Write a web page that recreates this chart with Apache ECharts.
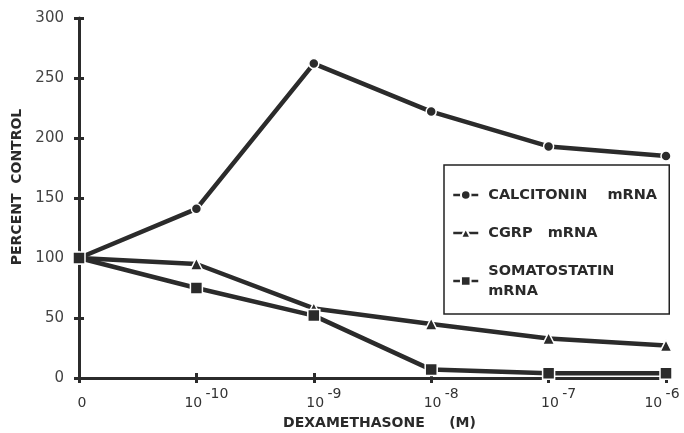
<!DOCTYPE html>
<html>
<head>
<meta charset="utf-8">
<script src="https://cdn.jsdelivr.net/npm/echarts@6/dist/echarts.min.js"></script>
<style>
html,body{margin:0;padding:0;background:#fff;}
#chart{width:684px;height:433px;}
</style>
</head>
<body>
<div id="chart"></div>
<script>
// Data
var xCategories = ['0', '1e-10', '1e-9', '1e-8', '1e-7', '1e-6'];
var calcitonin = [100, 141, 262, 222, 193, 185];
var cgrp = [100, 95, 58, 45, 33, 27];
var somatostatin = [100, 75, 52, 7, 4, 4];
var seriesNames = ['CALCITONIN    mRNA', 'CGRP   mRNA', 'SOMATOSTATIN\nmRNA'];
var yTicks = {min: 0, max: 300, interval: 50};
var xTitle = 'DEXAMETHASONE     (M)';
var yTitle = 'PERCENT  CONTROL';

var ink = '#2b2b2b';
var font = 'DejaVu Sans';

function xLabel(v) {
  if (v === '0') return '{b|0}';
  var exp = v.split('e')[1];
  return '{b|10} {s|' + exp + '}';
}

var lastIdx = xCategories.length - 1;
var xData = xCategories.map(function (c, i) {
  if (i === 0) return {value: c, textStyle: {padding: [0, 0, 0, 6]}};
  if (i === lastIdx) return {value: c, textStyle: {padding: [0, 8, 0, 0]}};
  return c;
});

var chart = echarts.init(document.getElementById('chart'), null, {renderer: 'canvas'});

function mkSeries(name, data, symbol, size) {
  return {
    name: name,
    type: 'line',
    data: data,
    symbol: symbol,
    symbolSize: size,
    showSymbol: true,
    lineStyle: {color: ink, width: 4.5},
    itemStyle: {color: ink, borderColor: '#fff', borderWidth: 1.5},
    emphasis: {disabled: true},
    animation: false
  };
}

chart.setOption({
  backgroundColor: '#fff',
  animation: false,
  grid: {left: 79, right: 18, top: 18, bottom: 55, containLabel: false, outerBoundsMode: 'none'},
  legend: {
    left: 444,
    top: 165,
    orient: 'vertical',
    data: seriesNames,
    backgroundColor: '#fff',
    borderColor: '#222',
    borderWidth: 1.5,
    borderRadius: 0,
    padding: [20, 11, 13, 8],
    itemGap: 18,
    itemWidth: 25,
    itemHeight: 12,
    textStyle: {
      fontFamily: font, fontSize: 14.5, fontWeight: 'bold', color: '#2a2a2a',
      width: 170, lineHeight: 20, padding: [0, 0, 0, 5]
    },
    lineStyle: {width: 2.5}
  },
  xAxis: [{
    type: 'category',
    data: xData,
    boundaryGap: false,
    axisLine: {lineStyle: {color: ink, width: 3}},
    axisTick: {show: true, interval: 0, length: 5, lineStyle: {color: ink, width: 3}},
    axisLabel: {
      interval: 0,
      margin: 8,
      formatter: xLabel,
      padding: [0, 0, 0, 20],
      rich: {
        b: {fontFamily: font, fontSize: 14, color: '#333', padding: [10, 0, 0, 0]},
        s: {fontFamily: font, fontSize: 14, color: '#333', padding: [0, 0, 8, 0]}
      }
    },
    splitLine: {show: false},
    name: xTitle,
    nameLocation: 'middle',
    nameGap: 38,
    nameTextStyle: {fontFamily: font, fontSize: 14, fontWeight: 'bold', color: '#2a2a2a', padding: [0, 0, 0, 14]}
  }, {
    type: 'category',
    data: xCategories,
    boundaryGap: false,
    position: 'bottom',
    axisLine: {show: false},
    axisTick: {show: true, inside: true, interval: 0, length: 5, lineStyle: {color: ink, width: 3}},
    axisLabel: {show: false},
    splitLine: {show: false}
  }],
  yAxis: [{
    type: 'value',
    min: yTicks.min,
    max: yTicks.max,
    interval: yTicks.interval,
    axisLine: {show: true, lineStyle: {color: ink, width: 3}},
    axisTick: {show: true, length: 5, lineStyle: {color: ink, width: 3}},
    axisLabel: {fontFamily: font, fontSize: 15, color: '#444', margin: 15},
    splitLine: {show: false},
    name: yTitle,
    nameLocation: 'middle',
    nameRotate: 90,
    nameGap: 49,
    nameTextStyle: {fontFamily: font, fontSize: 14, fontWeight: 'bold', color: '#2a2a2a', padding: [0, 0, 0, 22]}
  }, {
    type: 'value',
    position: 'left',
    offset: 0,
    min: yTicks.min,
    max: yTicks.max,
    interval: yTicks.interval,
    axisLine: {show: false},
    axisTick: {show: true, inside: true, length: 5, lineStyle: {color: ink, width: 3}},
    axisLabel: {show: false},
    splitLine: {show: false}
  }],
  series: [
    mkSeries(seriesNames[0], calcitonin, 'circle', 10),
    mkSeries(seriesNames[1], cgrp, 'triangle', 12),
    mkSeries(seriesNames[2], somatostatin, 'rect', 12)
  ]
});
</script>
</body>
</html>
